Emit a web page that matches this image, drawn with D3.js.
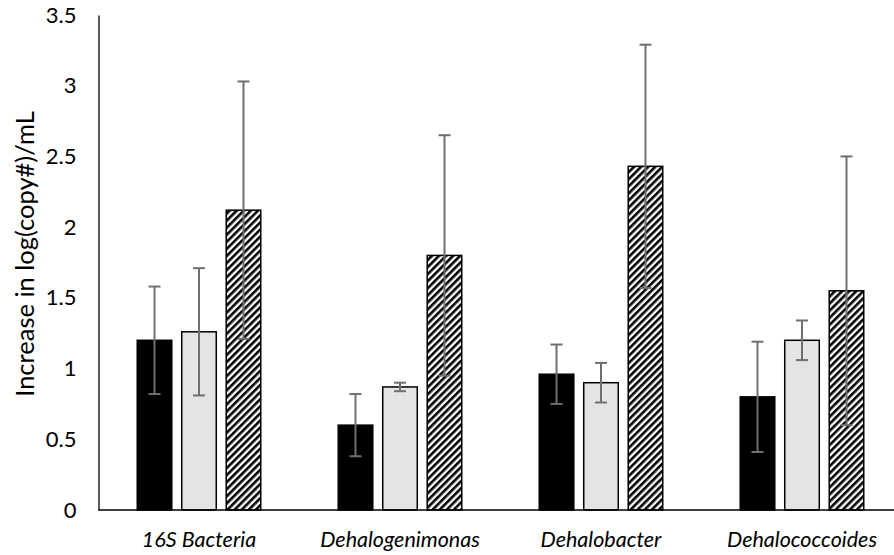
<!DOCTYPE html>
<html>
<head>
<meta charset="utf-8">
<script src="https://cdn.jsdelivr.net/npm/d3@7"></script>
<style>
  html, body { margin: 0; padding: 0; background: #fff; }
  svg { display: block; }
  text { font-family: Lato, "Open Sans", sans-serif; fill: #000; }
</style>
</head>
<body>
<svg id="chart" width="894" height="555"></svg>
<script>
// ---- data ----
const categories = ["16S Bacteria", "Dehalogenimonas", "Dehalobacter", "Dehalococcoides"];
const seriesBlack = [1.20, 0.60, 0.96, 0.80];
const errorBlack  = [0.38, 0.22, 0.21, 0.39];
const seriesGray  = [1.26, 0.87, 0.90, 1.20];
const errorGray   = [0.45, 0.03, 0.14, 0.14];
const seriesHatch = [2.12, 1.80, 2.43, 1.55];
const errorHatch  = [0.91, 0.85, 0.86, 0.95];
const yTicks = [0, 0.5, 1, 1.5, 2, 2.5, 3, 3.5];
const yLabel = "Increase in log(copy#)/mL";

(function () {
// ---- layout ----
const svg = d3.select("#chart");
const plotLeft = 98.5, plotRight = 902.5, plotTop = 15, plotBottom = 510;

const x0 = d3.scaleBand().domain(categories).range([plotLeft, plotRight])
  .paddingInner(0.378).paddingOuter(0.189);
const x1 = d3.scaleBand().domain([0, 1, 2]).range([0, x0.bandwidth()])
  .paddingInner(0.19).paddingOuter(0);
const y = d3.scaleLinear().domain([0, 3.5]).range([plotBottom, plotTop]);

// hatch pattern
const defs = svg.append("defs");
const pat = defs.append("pattern").attr("id", "hatch")
  .attr("patternUnits", "userSpaceOnUse").attr("width", 5).attr("height", 5)
  .attr("patternTransform", "rotate(45)");
pat.append("rect").attr("width", 5).attr("height", 5).attr("fill", "#fff");
pat.append("rect").attr("x", 0).attr("y", 0).attr("width", 2.6).attr("height", 5).attr("fill", "#000");

const series = [
  { vals: seriesBlack, errs: errorBlack, fill: "#000", stroke: "#000" },
  { vals: seriesGray,  errs: errorGray,  fill: "#e4e4e4", stroke: "#000" },
  { vals: seriesHatch, errs: errorHatch, fill: "url(#hatch)", stroke: "#000" }
];

// bars
series.forEach((s, si) => {
  svg.append("g").selectAll("rect").data(categories).join("rect")
    .attr("x", c => x0(c) + x1(si) + 0.75)
    .attr("width", x1.bandwidth() - 1.5)
    .attr("y", (c, i) => y(s.vals[i]))
    .attr("height", (c, i) => y(0) - y(s.vals[i]))
    .attr("fill", s.fill)
    .attr("stroke", s.stroke)
    .attr("stroke-width", 1.5);
});

// error bars
const errColor = "#6f6f6f";
series.forEach((s, si) => {
  const g = svg.append("g").attr("stroke", errColor).attr("stroke-width", 2).attr("fill", "none");
  categories.forEach((c, i) => {
    const cx = x0(c) + x1(si) + x1.bandwidth() / 2;
    const hi = y(s.vals[i] + s.errs[i]);
    const lo = y(s.vals[i] - s.errs[i]);
    g.append("line").attr("x1", cx).attr("x2", cx).attr("y1", hi).attr("y2", lo);
    g.append("line").attr("x1", cx - 6).attr("x2", cx + 6).attr("y1", hi).attr("y2", hi);
    g.append("line").attr("x1", cx - 6).attr("x2", cx + 6).attr("y1", lo).attr("y2", lo);
  });
});

// axes
const yAxis = d3.axisLeft(y).tickValues(yTicks).tickSize(0).tickPadding(22)
  .tickFormat(d3.format("~g"));
const gy = svg.append("g").attr("transform", `translate(${plotLeft},0)`).call(yAxis);
gy.select(".domain").attr("stroke", "#222").attr("stroke-width", 1.5);
gy.selectAll("text").attr("font-family", "Lato, sans-serif").attr("font-size", 22).attr("fill", "#000");

// baseline
svg.append("line").attr("x1", plotLeft).attr("x2", 894).attr("y1", y(0)).attr("y2", y(0))
  .attr("stroke", "#000").attr("stroke-width", 1.5);

// category labels
svg.append("g").selectAll("text").data(categories).join("text")
  .attr("x", c => x0(c) + x0.bandwidth() / 2)
  .attr("y", 547)
  .attr("text-anchor", "middle")
  .attr("font-size", 21.5)
  .attr("font-style", "italic")
  .text(c => c);

// y label
svg.append("text")
  .attr("transform", `translate(34,254) rotate(-90)`)
  .attr("text-anchor", "middle")
  .attr("font-size", 25.5)
  .text(yLabel);
})();
</script>
</body>
</html>
